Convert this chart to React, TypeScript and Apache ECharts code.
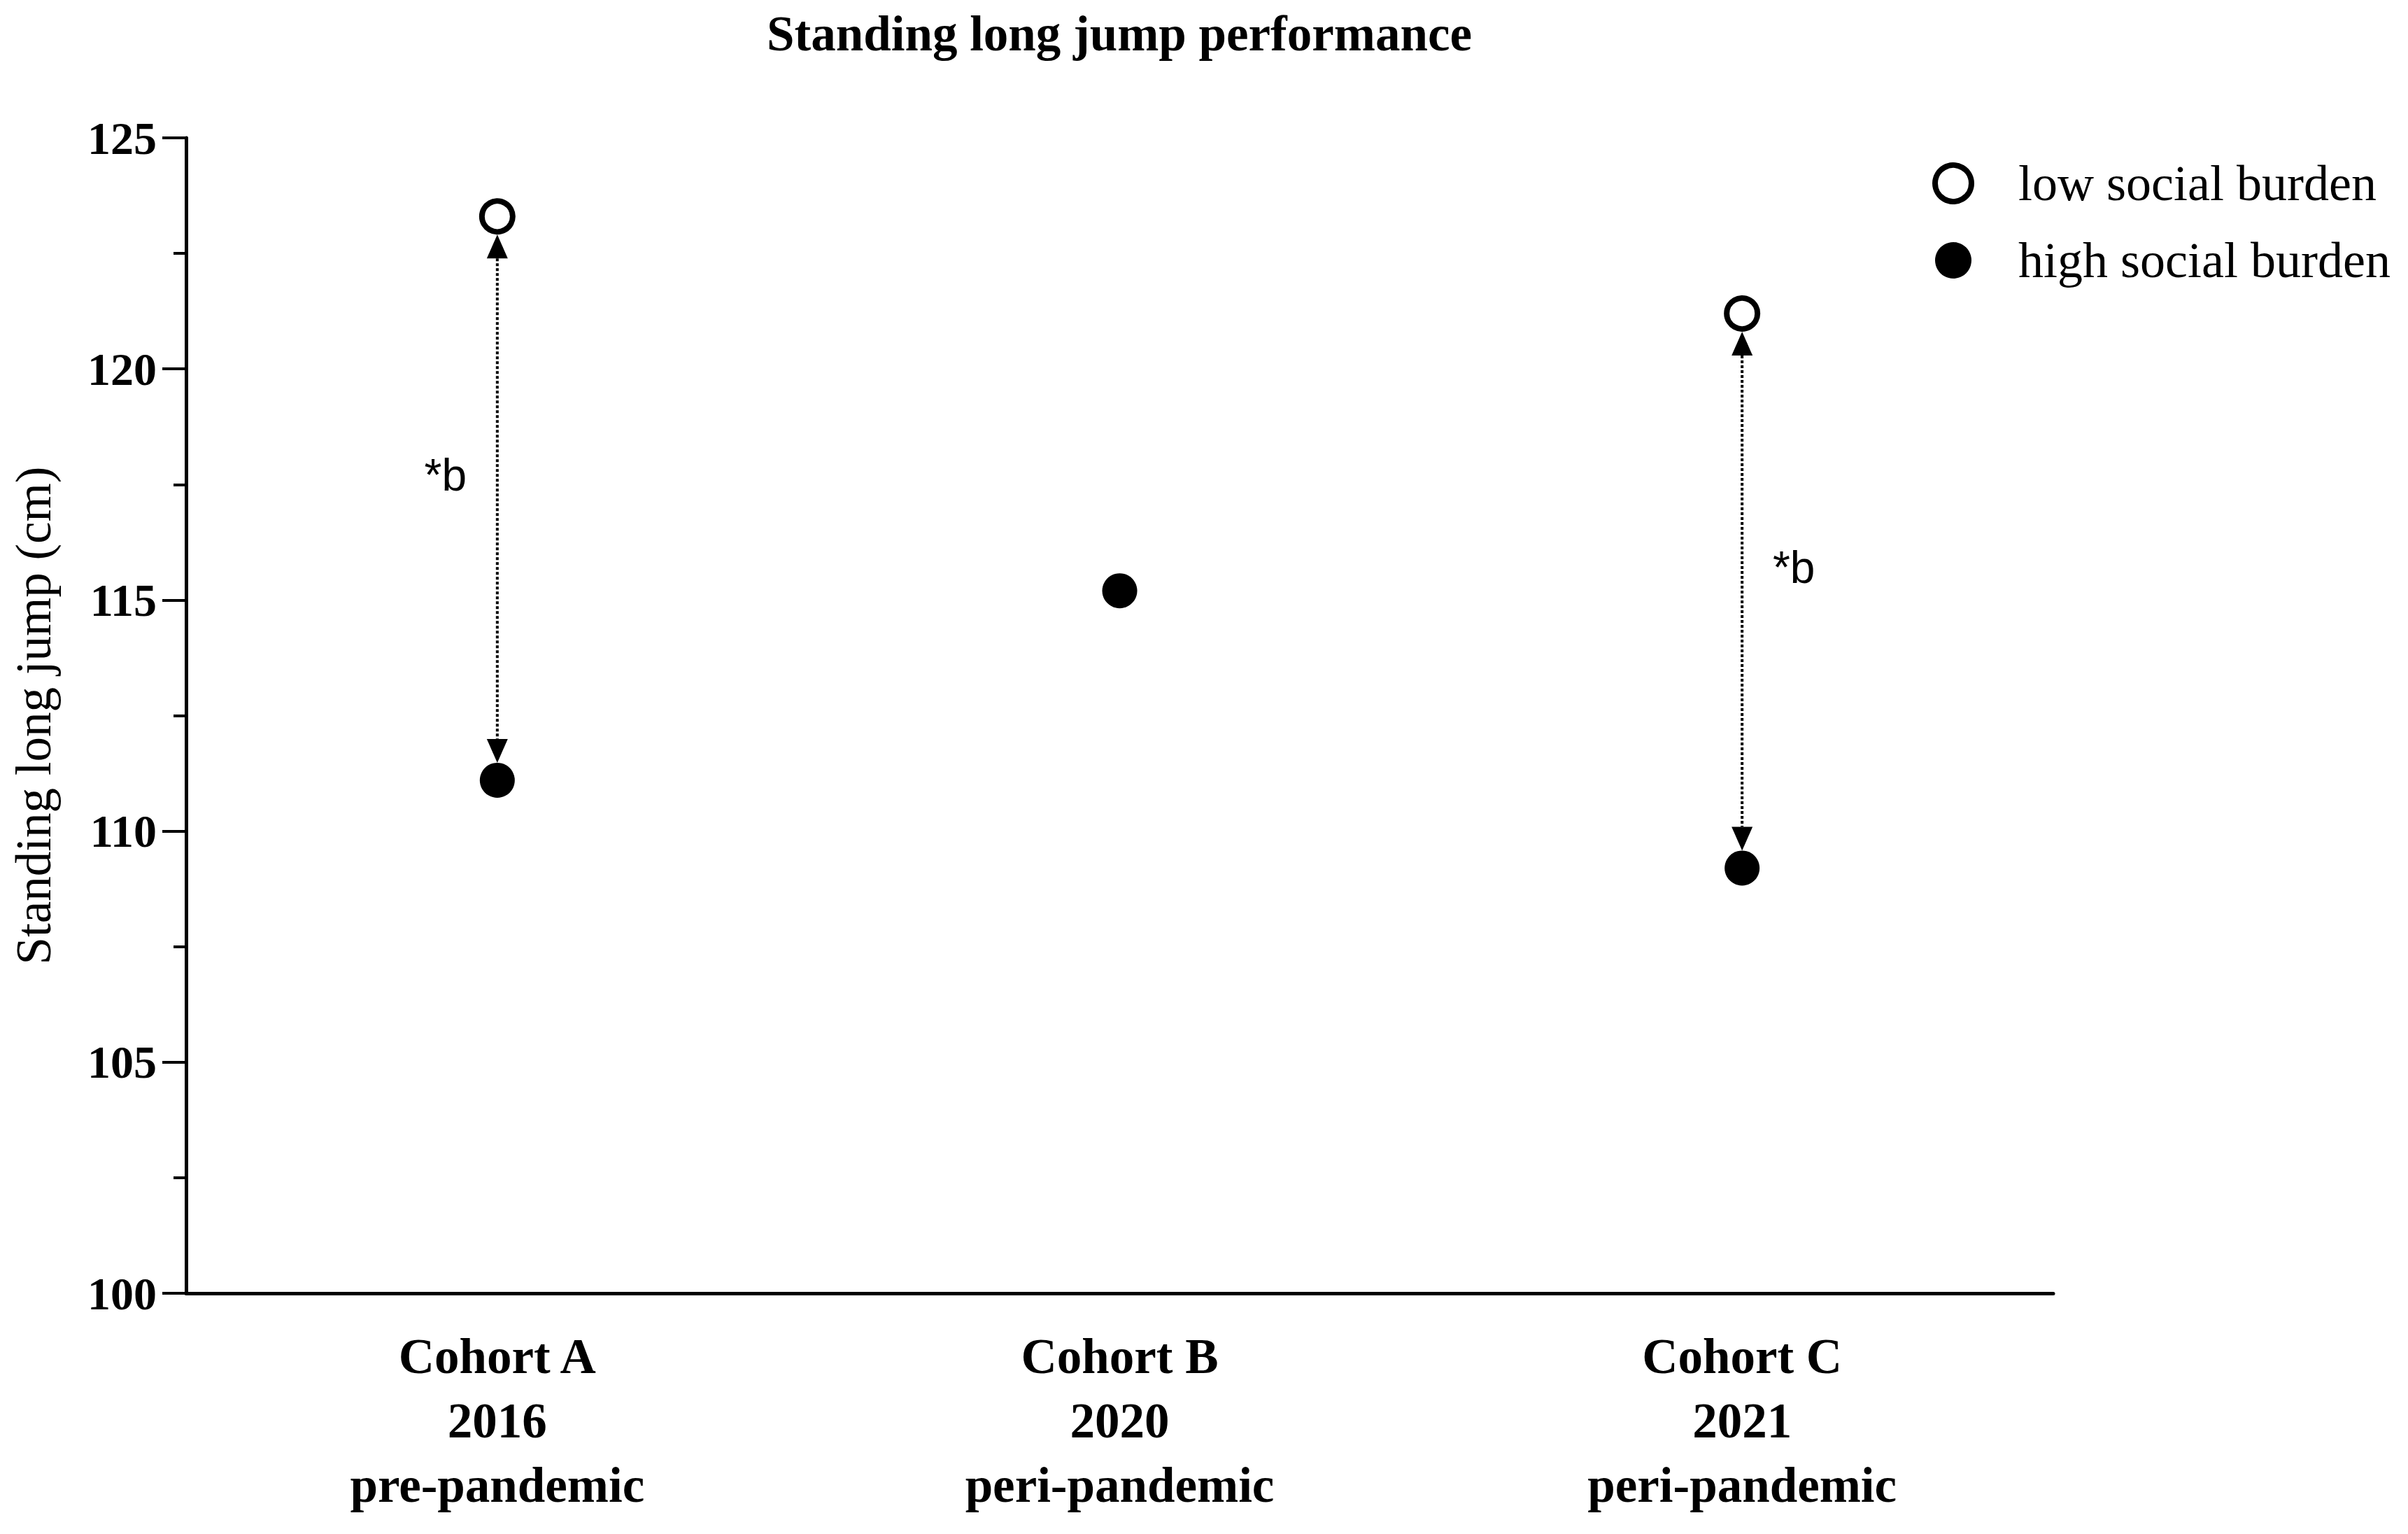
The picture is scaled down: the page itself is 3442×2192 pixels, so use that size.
import React, { useEffect, useRef } from "react";
import * as echarts from "echarts";

const titleText = "Standing long jump performance";
const yAxisName = "Standing long jump (cm)";
const categories = [
  "Cohort A\n2016\npre-pandemic",
  "Cohort B\n2020\nperi-pandemic",
  "Cohort C\n2021\nperi-pandemic",
];
const lowBurden: (number | null)[] = [123.3, null, 121.2];
const highBurden: (number | null)[] = [111.1, 115.2, 109.2];
const significance = ["*b", "", "*b"];
const yTicks = { min: 100, max: 125, interval: 5 };
const seriesNames = ["low social burden", "high social burden"];

const SERIF = "'Liberation Serif', 'DejaVu Serif', serif";
const SANS = "'Liberation Sans', Arial, sans-serif";

export default function App() {
  const ref = useRef<HTMLDivElement>(null);

  useEffect(() => {
    if (!ref.current) return;
    const chart = echarts.init(ref.current, undefined, { renderer: "svg" });

    const arrowData: any[] = [];
    categories.forEach((_, i) => {
      const lo = lowBurden[i];
      const hi = highBurden[i];
      if (lo != null && hi != null) arrowData.push([i, lo, hi, significance[i]]);
    });

    const option: any = {
      animation: false,
      backgroundColor: "#ffffff",
      title: {
        text: titleText,
        left: 1600,
        top: 12,
        padding: 0,
        textAlign: "center",
        textStyle: { fontFamily: SERIF, fontWeight: "bold", fontSize: 71, color: "#000" },
      },
      legend: {
        orient: "vertical",
        left: 2757,
        top: 221,
        itemWidth: 52,
        itemHeight: 52,
        itemGap: 38,
        data: [
          {
            name: seriesNames[0],
            icon: "circle",
            itemStyle: { color: "#fff", borderColor: "#000", borderWidth: 8 },
          },
          { name: seriesNames[1], icon: "circle", itemStyle: { color: "#000" } },
        ],
        textStyle: {
          fontFamily: SERIF,
          fontSize: 72,
          color: "#000",
          padding: [0, 0, 0, 62],
        },
      },
      grid: { left: 266, right: 507, top: 197, bottom: 344, containLabel: false },
      xAxis: {
        type: "category",
        data: categories,
        boundaryGap: true,
        axisLine: { lineStyle: { color: "#000", width: 5 } },
        axisTick: { alignWithLabel: true, length: 35, lineStyle: { color: "#000", width: 3 } },
        axisLabel: {
          margin: 44,
          fontFamily: SERIF,
          fontWeight: "bold",
          fontSize: 71,
          lineHeight: 92,
          color: "#000",
        },
        splitLine: { show: false },
      },
      yAxis: {
        type: "value",
        min: yTicks.min,
        max: yTicks.max,
        interval: yTicks.interval,
        name: yAxisName,
        nameLocation: "middle",
        nameGap: 218,
        nameTextStyle: { fontFamily: SERIF, fontSize: 71, color: "#000", verticalAlign: "middle" },
        axisLine: { show: true, lineStyle: { color: "#000", width: 5 } },
        axisTick: { show: true, length: 34, lineStyle: { color: "#000", width: 4 } },
        minorTick: { show: true, splitNumber: 2, length: 18, lineStyle: { color: "#000", width: 4 } },
        axisLabel: {
          margin: 42,
          fontFamily: SERIF,
          fontWeight: "bold",
          fontSize: 66,
          color: "#000",
        },
        splitLine: { show: false },
        minorSplitLine: { show: false },
      },
      series: [
        {
          type: "custom",
          silent: true,
          clip: false,
          z: 1,
          encode: { x: 0, y: [1, 2] },
          data: arrowData,
          renderItem: (params: any, api: any) => {
            const idx = api.value(0);
            const pTop = api.coord([idx, api.value(1)]);
            const pBot = api.coord([idx, api.value(2)]);
            const x = pTop[0];
            const r = 25;
            const ah = 34;
            const aw = 15;
            const tipTop = pTop[1] + r + 1;
            const tipBot = pBot[1] - r;
            const side = idx === 0 ? -1 : 1;
            const label = arrowData[params.dataIndex][3];
            return {
              type: "group",
              children: [
                {
                  type: "line",
                  shape: { x1: x, y1: tipTop + ah, x2: x, y2: tipBot - ah },
                  style: { stroke: "#000", lineWidth: 4, lineDash: [4, 3] },
                },
                {
                  type: "polygon",
                  shape: { points: [[x, tipTop], [x - aw, tipTop + ah], [x + aw, tipTop + ah]] },
                  style: { fill: "#000" },
                },
                {
                  type: "polygon",
                  shape: { points: [[x, tipBot], [x - aw, tipBot - ah], [x + aw, tipBot - ah]] },
                  style: { fill: "#000" },
                },
                {
                  type: "text",
                  style: {
                    text: label,
                    x: x + side * 74,
                    y: (tipTop + tipBot) / 2 - 34,
                    align: "center",
                    verticalAlign: "middle",
                    font: `64px ${SANS}`,
                    fill: "#000",
                  },
                },
              ],
            };
          },
        },
        {
          name: seriesNames[0],
          type: "scatter",
          z: 3,
          symbol: "circle",
          symbolSize: 44,
          data: lowBurden,
          itemStyle: { color: "#ffffff", borderColor: "#000", borderWidth: 8, opacity: 1 },
        },
        {
          name: seriesNames[1],
          type: "scatter",
          z: 3,
          symbol: "circle",
          symbolSize: 50,
          data: highBurden,
          itemStyle: { color: "#000", opacity: 1 },
        },
      ],
    };

    chart.setOption(option);
    return () => chart.dispose();
  }, []);

  return (
    <div
      ref={ref}
      style={{ position: "fixed", left: 0, top: 0, width: 3442, height: 2192, background: "#fff" }}
    />
  );
}
